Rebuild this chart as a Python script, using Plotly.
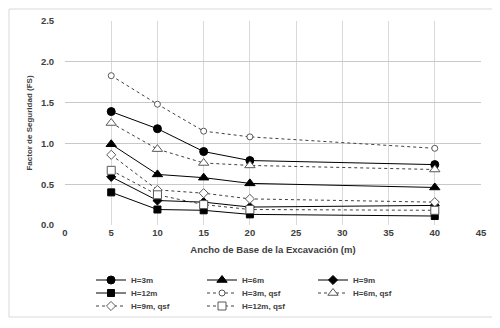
import plotly.graph_objects as go

# Data
ancho = [5, 10, 15, 20, 40]
fs_h3 = [1.39, 1.18, 0.90, 0.79, 0.74]
fs_h6 = [0.99, 0.62, 0.58, 0.51, 0.46]
fs_h9 = [0.59, 0.30, 0.28, 0.22, 0.24]
fs_h12 = [0.40, 0.19, 0.18, 0.13, 0.11]
fs_h3_qsf = [1.83, 1.48, 1.15, 1.08, 0.94]
fs_h6_qsf = [1.25, 0.93, 0.76, 0.73, 0.68]
fs_h9_qsf = [0.86, 0.43, 0.39, 0.32, 0.28]
fs_h12_qsf = [0.67, 0.37, 0.25, 0.19, 0.18]
fs_limite = 1.0

x_ticks = [0, 5, 10, 15, 20, 25, 30, 35, 40, 45]
y_ticks = [0.0, 0.5, 1.0, 1.5, 2.0, 2.5]

FONT = "Liberation Sans, Arial, sans-serif"
TXT = "#404040"

fig = go.Figure()

series = [
    ("H=3m", fs_h3, "circle", 8, "solid", True, "legend"),
    ("H=6m", fs_h6, "triangle-up", 9, "solid", True, "legend"),
    ("H=9m", fs_h9, "diamond", 7, "solid", True, "legend"),
    ("H=12m", fs_h12, "square", 7, "solid", True, "legend2"),
    ("H=3m, qsf", fs_h3_qsf, "circle", 6, "dot", False, "legend2"),
    ("H=6m, qsf", fs_h6_qsf, "triangle-up", 9, "dot", False, "legend2"),
    ("H=9m, qsf", fs_h9_qsf, "diamond", 7, "dot", False, "legend3"),
    ("H=12m, qsf", fs_h12_qsf, "square", 8, "dot", False, "legend3"),
]

for name, ys, sym, sz, dash, filled, lg in series:
    fig.add_trace(go.Scatter(
        x=ancho, y=ys, name=name, mode="lines+markers", legend=lg,
        line=dict(color="#000000" if filled else "#404040", width=1, dash=dash),
        marker=dict(symbol=sym, size=sz,
                    color="#000000" if filled else "#ffffff",
                    line=dict(color="#000000" if filled else "#595959", width=1)),
    ))

fig.add_hline(y=fs_limite, line=dict(color="#ee1c1c", width=2), layer="below")

tf = dict(family=FONT, size=8, color=TXT, weight="bold")
tickf = dict(family=FONT, size=9.5, color=TXT, weight="bold")


def leg(ypix):
    return dict(orientation="h", x=0.0625, xanchor="left",
                y=(217 - ypix) / 204, yanchor="middle",
                entrywidth=66, entrywidthmode="pixels",
                font=tf, itemwidth=30, bgcolor="rgba(0,0,0,0)")


fig.update_layout(
    width=500, height=328,
    margin=dict(l=57, r=27, t=13, b=111, autoexpand=False),
    paper_bgcolor="white", plot_bgcolor="white",
    font=tf,
    showlegend=True,
    legend=leg(272), legend2=leg(285), legend3=leg(298),
    xaxis=dict(range=[0, 45], tickvals=x_ticks, showgrid=True, gridcolor="#d9d9d9",
               gridwidth=1, zeroline=False, showline=False, ticks="",
               tickfont=tickf,
               title=dict(text="Ancho de Base de la Excavación (m)", standoff=9,
                          font=dict(family=FONT, size=9.5, color=TXT, weight="bold"))),
    yaxis=dict(range=[0, 2.5], tickvals=y_ticks, tickformat=".1f", showgrid=True,
               gridcolor="#c8c8c8", gridwidth=1, zeroline=False, showline=False,
               ticks="outside", ticklen=8, tickcolor="rgba(0,0,0,0)",
               tickfont=tickf,
               title=dict(text="Factor de Seguridad (FS)", standoff=7, font=tf)),
    shapes=[dict(type="rect", xref="paper", yref="paper",
                 x0=-0.1346, x1=1.0409, y0=-0.451, y1=1.0588,
                 line=dict(color="#d9d9d9", width=1), fillcolor="rgba(0,0,0,0)",
                 layer="below")],
)

fig.write_html("out.html")
